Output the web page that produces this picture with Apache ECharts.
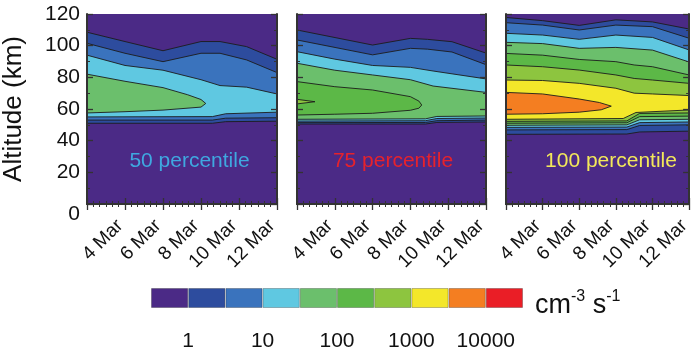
<!DOCTYPE html>
<html>
<head>
<meta charset="utf-8">
<script src="https://cdn.jsdelivr.net/npm/echarts@6/dist/echarts.min.js"></script>
<style>
html, body { margin: 0; padding: 0; background: #fff; }
#chart { width: 693px; height: 352px; }
</style>
</head>
<body>
<div id="chart"></div>
<script>
// x axis is day of March, y axis is altitude in km
var dateTicks = [4, 6, 8, 10, 12];
var dateLabels = ['4 Mar', '6 Mar', '8 Mar', '10 Mar', '12 Mar'];

// colour of each contour level, index 0 is the background level
var levelColors = ['#4b2a86', '#2d4c9e', '#3a73bd', '#5fc8e1', '#6bbf6c', '#5cb847', '#8dc53f', '#f3e72a', '#f47e21', '#ea1e26'];

var cbLabels = ['1', '10', '100', '1000', '10000'];
var cbLabelAt = [1, 3, 5, 7, 9];

var panelNames = ['50 percentile', '75 percentile', '100 percentile'];
var panelNameColors = ['#3fa8e0', '#e6222c', '#f3e85a'];

// for every level: upper edge and lower edge of the region where the rate is at least that level
var p50Top = [
    [[2, 108.5], [4, 102.6], [6, 96.8], [8, 102.6], [9, 102.6], [10.4, 99.4], [12, 91.4]],
    [[2, 101.5], [4, 95.2], [6, 89.9], [8, 95.2], [9, 95.2], [10.4, 91], [12, 83]],
    [[2, 94], [4, 87.5], [6, 84.5], [8, 78.5], [9, 74.8], [10.4, 73.8], [12, 69.5]],
    [[2, 82], [4, 77.5], [6, 73.5], [7.3, 69], [8, 66], [8.25, 63.5]]
];
var p50Bottom = [
    [[2, 51], [8.6, 51], [9.3, 52], [12, 52.3]],
    [[2, 53], [8.6, 53], [9.3, 54.2], [12, 54.5]],
    [[2, 55], [8.6, 55.2], [9.3, 57], [12, 58]],
    [[2, 57.5], [4, 58.3], [6, 59.3], [8, 61.2], [8.25, 63.5]]
];

var p75Top = [
    [[2, 109.9], [6, 100.4], [8, 104.6], [8.9, 104], [10.2, 102.5], [12, 95.3]],
    [[2, 103.6], [6, 94.2], [8, 98.3], [8.9, 97.8], [10.2, 96], [12, 88]],
    [[2, 96.2], [4, 91.5], [6, 87.5], [8, 86.3], [9.2, 84], [12, 79]],
    [[2, 88.9], [4, 84.5], [6, 81.5], [8, 78.5], [9.2, 74.5], [12, 70.5]],
    [[2, 77.3], [4, 74.1], [6, 72], [8, 67.8], [8.45, 65], [8.6, 62.5]],
    [[2, 66.1], [2.95, 64.6]]
];
var p75Bottom = [
    [[2, 50.5], [8.8, 50.5], [9.4, 51.5], [12, 51.8]],
    [[2, 51.4], [8.8, 51.5], [9.4, 52.6], [12, 53]],
    [[2, 52.4], [8.8, 52.6], [9.4, 54], [12, 54.3]],
    [[2, 53.5], [8.8, 53.8], [9.4, 55.3], [12, 55.6]],
    [[2, 56.2], [4, 56.7], [6, 57.3], [8, 59.2], [8.45, 60.5], [8.6, 62.5]],
    [[2, 63.2], [2.95, 64.6]]
];

var p100Top = [
    [[2, 117.8], [4, 115.8], [6, 112.8], [8, 116.3], [10, 115], [12, 110.5]],
    [[2, 114.5], [4, 113], [6, 109.9], [8, 113], [10, 112], [12, 104.7]],
    [[2, 107.8], [4, 106.7], [6, 104], [8, 106.7], [10, 105.2], [12, 97.3]],
    [[2, 102.1], [4, 101.3], [6, 98.3], [8, 98.9], [10, 97.2], [12, 89.7]],
    [[2, 95.1], [4, 94], [6, 91.3], [8, 89.9], [9, 87.8], [10, 86.7], [12, 81.5]],
    [[2, 87.8], [4, 86.7], [6, 84.6], [8, 81.5], [9, 79.3], [10, 78.3], [12, 76.2]],
    [[2, 78.3], [4, 78], [6, 76.2], [8, 73.1], [9, 70], [10, 69.5], [12, 68.5]],
    [[2, 70.5], [4, 69.5], [6, 66.3], [7.1, 64.1], [7.75, 61.8]]
];
var p100Bottom = [
    [[2, 44], [8.6, 44.2], [9.3, 45.5], [12, 46]],
    [[2, 46.8], [8.6, 47], [9.3, 49.6], [12, 50]],
    [[2, 48.4], [8.6, 48.6], [9.3, 51.4], [12, 51.8]],
    [[2, 49.7], [8.6, 50], [9.3, 53.2], [12, 53.5]],
    [[2, 51], [8.6, 51.3], [9.3, 55.2], [12, 55.5]],
    [[2, 52.2], [8.6, 52.5], [9.3, 57.2], [12, 57.5]],
    [[2, 53.5], [8.4, 54], [9.1, 57.8], [12, 59.4]],
    [[2, 56.7], [4, 57], [6, 58], [7.2, 59.5], [7.75, 61.8]]
];

var panelTops = [p50Top, p75Top, p100Top];
var panelBottoms = [p50Bottom, p75Bottom, p100Bottom];

var FONT = 'Liberation Sans, Arial, Helvetica, sans-serif';
var frameColor = '#333';

var panelBox = [
    {left: 87, width: 190},
    {left: 297, width: 189},
    {left: 506, width: 189}
];

var grids = [];
var xAxes = [];
var yAxes = [];
var series = [];
var graphics = [];

function dateLabel(v) {
    var i = dateTicks.indexOf(v);
    return i >= 0 ? dateLabels[i] : '';
}

for (var p = 0; p < 3; p++) {
    grids.push({left: panelBox[p].left, width: panelBox[p].width, top: 14, height: 190,
        show: true, backgroundColor: levelColors[0], borderWidth: 0});

    var tickStyle = {inside: true, length: 6, lineStyle: {color: frameColor, width: 1.3}};
    var minorLine = {color: frameColor, width: 1};

    xAxes.push({
        gridIndex: p, type: 'value', min: 2, max: 12, interval: 2, position: 'bottom', z: 5,
        axisLine: {show: true, lineStyle: {color: frameColor, width: 2}},
        axisTick: tickStyle,
        minorTick: {show: true, splitNumber: 6, length: 3, lineStyle: minorLine},
        splitLine: {show: false},
        axisLabel: {
            show: true, rotate: 45, margin: 14, padding: [0, 7, 0, 0],
            fontSize: 19, fontFamily: FONT, color: '#111',
            showMinLabel: false, formatter: dateLabel
        }
    });
    xAxes.push({
        gridIndex: p, type: 'value', min: 2, max: 12, interval: 2, position: 'top', z: 5,
        axisLine: {show: true, lineStyle: {color: frameColor, width: 2}},
        axisTick: tickStyle,
        minorTick: {show: true, splitNumber: 6, length: 3, lineStyle: minorLine},
        splitLine: {show: false},
        axisLabel: {show: false}
    });
    yAxes.push({
        gridIndex: p, type: 'value', min: 0, max: 120, interval: 20, position: 'left', z: 5,
        axisLine: {show: true, lineStyle: {color: frameColor, width: 2}},
        axisTick: tickStyle,
        minorTick: {show: true, splitNumber: 2, length: 3, lineStyle: minorLine},
        splitLine: {show: false},
        axisLabel: {show: p === 0, margin: 7, fontSize: 21, fontFamily: FONT, color: '#111',
            verticalAlignMinLabel: 'top'},
        name: p === 0 ? 'Altitude (km)' : '',
        nameLocation: 'middle', nameGap: 60,
        nameTextStyle: {fontSize: 26, fontFamily: FONT, color: '#111'}
    });
    yAxes.push({
        gridIndex: p, type: 'value', min: 0, max: 120, interval: 20, position: 'right', z: 5,
        axisLine: {show: true, lineStyle: {color: frameColor, width: 2}},
        axisTick: tickStyle,
        minorTick: {show: true, splitNumber: 2, length: 3, lineStyle: minorLine},
        splitLine: {show: false},
        axisLabel: {show: false}
    });

    (function (tops, bottoms) {
        series.push({
            type: 'custom',
            xAxisIndex: 2 * p,
            yAxisIndex: 2 * p,
            clip: true,
            data: tops.map(function (t, i) { return i; }),
            renderItem: function (params, api) {
                var k = params.dataIndex;
                var pts = tops[k].map(function (d) { return api.coord(d); });
                var low = bottoms[k].slice().reverse();
                for (var j = 0; j < low.length; j++) {
                    pts.push(api.coord(low[j]));
                }
                return {
                    type: 'polygon',
                    shape: {points: pts},
                    style: {fill: levelColors[k + 1], stroke: '#1c1c1c', lineWidth: 0.9}
                };
            }
        });
    })(panelTops[p], panelBottoms[p]);
}

// panel captions
var captionX = [189.5, 393, 611];
for (var c = 0; c < 3; c++) {
    graphics.push({
        type: 'text', x: captionX[c], y: 161, z: 10,
        style: {text: panelNames[c], fill: panelNameColors[c], font: '21px ' + FONT,
            align: 'center', verticalAlign: 'middle', textAlign: 'center', textVerticalAlign: 'middle'}
    });
}

// colour bar
grids.push({left: 151, top: 288, width: 372, height: 28});
xAxes.push({
    gridIndex: 3, type: 'category', data: levelColors.map(function (c, i) { return String(i); }),
    axisLine: {show: false}, axisTick: {show: false}, axisLabel: {show: false}
});
xAxes.push({
    gridIndex: 3, type: 'value', min: 0, max: 10, interval: 1, position: 'bottom',
    axisLine: {show: false}, axisTick: {show: false}, splitLine: {show: false},
    axisLabel: {
        margin: 23, fontSize: 21, fontFamily: FONT, color: '#111',
        formatter: function (v) {
            var i = cbLabelAt.indexOf(v);
            return i >= 0 ? cbLabels[i] : '';
        }
    }
});
yAxes.push({gridIndex: 3, type: 'value', min: 0, max: 1, show: false});
series.push({
    type: 'bar',
    xAxisIndex: 6,
    yAxisIndex: 6,
    barCategoryGap: '0%',
    data: levelColors.map(function (c) {
        return {value: 1, itemStyle: {color: c, borderColor: 'rgba(0,0,0,0.25)', borderWidth: 1}};
    })
});

graphics.push({
    type: 'text', x: 535, y: 289, z: 10,
    style: {
        text: '{m|cm}{s|-3}{m| s}{s|-1}',
        verticalAlign: 'top', textVerticalAlign: 'top',
        rich: {
            m: {fontSize: 27, fontFamily: FONT, fill: '#111', lineHeight: 30, verticalAlign: 'bottom'},
            s: {fontSize: 16, fontFamily: FONT, fill: '#111', lineHeight: 12, verticalAlign: 'top'}
        }
    }
});

var chart = echarts.init(document.getElementById('chart'));
chart.setOption({
    animation: false,
    backgroundColor: '#fff',
    grid: grids,
    xAxis: xAxes,
    yAxis: yAxes,
    series: series,
    graphic: graphics
});
</script>
</body>
</html>
